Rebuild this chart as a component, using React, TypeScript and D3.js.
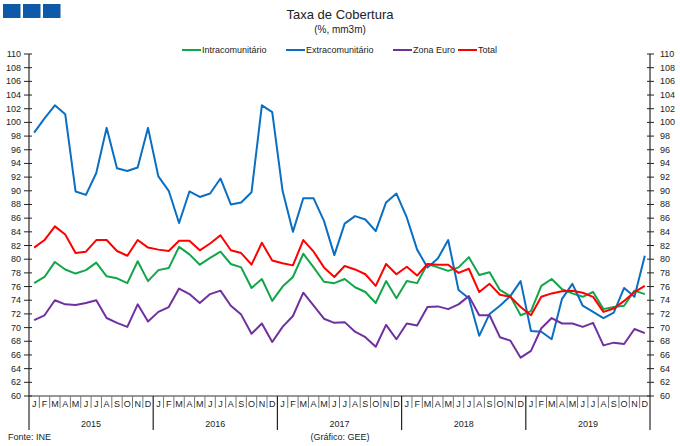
import React from "react";
import * as d3 from "d3";

// monthly values, Jan 2015 .. Dec 2019 (mm3m, %)
const years = ["2015", "2016", "2017", "2018", "2019"];
const monthLetters = ["J", "F", "M", "A", "M", "J", "J", "A", "S", "O", "N", "D"];

const intra = [
  76.5, 77.4, 79.6, 78.5, 77.9, 78.4, 79.5, 77.5, 77.2, 76.5, 79.7, 76.8,
  78.4, 78.7, 81.8, 80.7, 79.2, 80.2, 81.1, 79.3, 78.8, 75.8, 77.1, 73.9,
  76.0, 77.4, 80.8, 78.8, 76.7, 76.5, 77.1, 75.9, 75.2, 73.6, 76.8, 74.3,
  76.8, 76.5, 79.3, 78.8, 78.3, 78.8, 80.3, 77.7, 78.1, 75.5, 74.6, 71.8,
  72.4, 76.1, 77.1, 75.6, 75.0, 74.5, 75.2, 72.7, 73.0, 73.2, 75.4, 74.9,
];
const extra = [
  98.5, 100.6, 102.5, 101.2, 89.9, 89.4, 92.6, 99.2, 93.3, 92.9, 93.4, 99.2,
  92.1, 90.0, 85.3, 89.9, 89.1, 89.6, 91.8, 88.0, 88.3, 89.8, 102.5, 101.5,
  90.0, 84.0, 88.9, 88.9, 85.6, 80.6, 85.2, 86.3, 85.8, 84.1, 88.3, 89.6,
  86.1, 81.4, 78.8, 80.1, 82.8, 75.5, 74.3, 68.8, 72.0, 73.2, 74.6, 76.8,
  69.5, 69.4, 68.3, 74.2, 76.4, 73.2, 72.3, 71.4, 72.2, 75.8, 74.5, 80.5,
];
const zonaEuro = [
  71.1, 71.8, 74.0, 73.4, 73.3, 73.6, 74.0, 71.4, 70.7, 70.1, 73.4, 70.9,
  72.3, 73.0, 75.7, 74.9, 73.6, 74.9, 75.4, 73.2, 71.9, 69.1, 70.6, 67.9,
  70.1, 71.7, 75.1, 73.2, 71.3, 70.7, 70.8, 69.4, 68.6, 67.2, 70.4, 68.3,
  70.6, 70.3, 73.0, 73.1, 72.7, 73.4, 74.6, 71.8, 71.8, 68.6, 68.1, 65.6,
  66.6, 69.9, 71.4, 70.6, 70.6, 70.1, 70.7, 67.4, 67.8, 67.6, 69.8, 69.2,
];
const total = [
  81.7, 82.8, 84.8, 83.6, 80.9, 81.1, 82.8, 82.8, 81.2, 80.5, 82.8, 81.7,
  81.4, 81.2, 82.7, 82.7, 81.3, 82.3, 83.5, 81.3, 80.9, 79.2, 82.4, 79.8,
  79.4, 79.1, 82.8, 81.1, 78.8, 77.4, 79.0, 78.5, 77.8, 76.1, 79.3, 77.8,
  78.9, 77.6, 79.3, 79.2, 79.2, 78.0, 78.6, 75.2, 76.4, 74.8, 74.5, 73.0,
  71.8, 74.5, 75.0, 75.3, 75.4, 75.1, 74.5, 72.3, 72.8, 73.9, 75.2, 76.1,
];

const series = [
  { name: "Intracomunitário", values: intra, color: "#12a54a" },
  { name: "Extracomunitário", values: extra, color: "#0a6fc2" },
  { name: "Zona Euro", values: zonaEuro, color: "#7030a0" },
  { name: "Total", values: total, color: "#ff0000" },
];
const legendX = [182, 286, 393, 458];

const yTicks = d3.range(60, 111, 2);

const W = 680;
const H = 446;
const left = 29;
const right = 650;
const top = 54;
const bottom = 396;
const font = "'Liberation Sans', Arial, sans-serif";

export default function App() {
  const months = d3.range(years.length * 12);
  const x = d3.scaleBand<number>().domain(months).range([left, right]).padding(0);
  const y = d3.scaleLinear().domain([60, 110]).range([bottom, top]);
  const cx = (i: number) => (x(i) as number) + x.bandwidth() / 2;

  const line = d3
    .line<number>()
    .x((_, i) => cx(i))
    .y((d) => y(d));

  return (
    <svg
      width={W}
      height={H}
      style={{ position: "absolute", left: 0, top: 0, background: "#fff" }}
      fontFamily={font}
    >
      {/* logo squares */}
      {[0, 1, 2].map((k) => (
        <rect key={k} x={3 + k * 20} y={4} width={17.5} height={14} fill="#0f5aa6" />
      ))}

      <text x={340} y={19} textAnchor="middle" fontSize={13} fill="#222">
        Taxa de Cobertura
      </text>
      <text x={340} y={33} textAnchor="middle" fontSize={10} fill="#222">
        (%, mm3m)
      </text>

      {/* legend */}
      {series.map((s, k) => (
        <g key={s.name}>
          <line x1={legendX[k]} x2={legendX[k] + 19} y1={50} y2={50} stroke={s.color} strokeWidth={2} />
          <text x={legendX[k] + 20} y={53} fontSize={9} fill="#222">
            {s.name}
          </text>
        </g>
      ))}

      {/* y axes */}
      <line x1={left} x2={left} y1={top} y2={430} stroke="#555" strokeWidth={1.5} />
      <line x1={right} x2={right} y1={top} y2={430} stroke="#555" strokeWidth={1.5} />
      {yTicks.map((t) => (
        <g key={t}>
          <line x1={left - 5} x2={left + 3} y1={y(t)} y2={y(t)} stroke="#222" />
          <line x1={right - 3} x2={right + 4} y1={y(t)} y2={y(t)} stroke="#222" />
          <text x={21} y={y(t) + 3} textAnchor="end" fontSize={9} fill="#222">
            {t}
          </text>
          <text x={660} y={y(t) + 3} textAnchor="start" fontSize={9} fill="#222">
            {t}
          </text>
        </g>
      ))}

      {/* x axis */}
      <line x1={left} x2={right} y1={bottom} y2={bottom} stroke="#333" strokeWidth={1.2} />
      {months.map((i) => (
        <g key={i}>
          {i % 12 !== 0 && (
            <line x1={x(i)} x2={x(i)} y1={bottom} y2={bottom + 12} stroke="#777" />
          )}
          <text x={cx(i)} y={bottom + 10.5} textAnchor="middle" fontSize={9} fill="#222">
            {monthLetters[i % 12]}
          </text>
        </g>
      ))}
      {years.map((yr, k) => (
        <g key={yr}>
          {k > 0 && (
            <line x1={x(k * 12)} x2={x(k * 12)} y1={bottom} y2={430} stroke="#222" strokeWidth={1.2} />
          )}
          <text
            x={((x(k * 12) as number) + (x(k * 12 + 11) as number) + x.bandwidth()) / 2}
            y={427}
            textAnchor="middle"
            fontSize={9}
            fill="#222"
          >
            {yr}
          </text>
        </g>
      ))}

      {/* series */}
      {series.map((s) => (
        <path
          key={s.name}
          d={line(s.values) || ""}
          fill="none"
          stroke={s.color}
          strokeWidth={2}
          strokeLinejoin="round"
        />
      ))}

      <text x={8} y={440} fontSize={9} fill="#222">
        Fonte: INE
      </text>
      <text x={340} y={440} textAnchor="middle" fontSize={9} fill="#222">
        (Gráfico: GEE)
      </text>
    </svg>
  );
}
